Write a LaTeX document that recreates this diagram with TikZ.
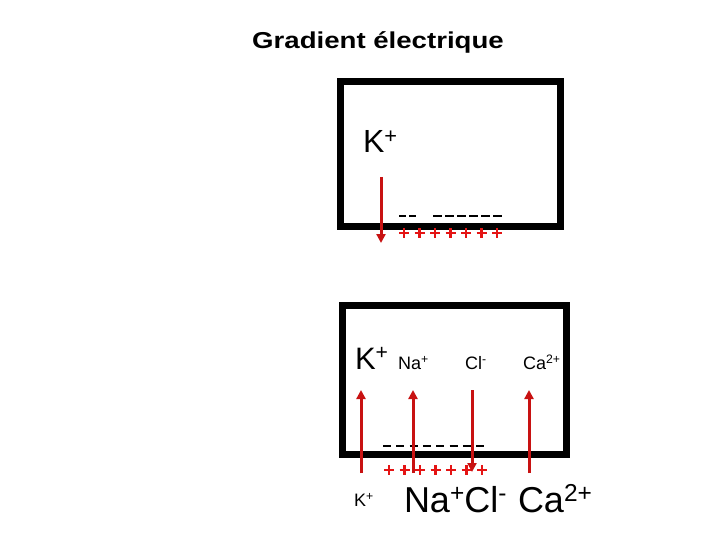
\documentclass[tikz,border=0pt]{standalone}
\usepackage{fontspec}
\setmainfont{Liberation Sans}
\usetikzlibrary{arrows.meta}
\definecolor{arrowred}{RGB}{200,18,18}
\definecolor{plusred}{RGB}{228,20,20}
\newcommand\supx[1]{\raisebox{0.3em}{\scalebox{0.68}{#1}}}
\newcommand\fsz[1]{\fontsize{#1}{#1}\selectfont}
\tikzset{
  cellbox/.style={draw=black, line width=7pt},
  ionarrow/.style={draw=arrowred, line width=3pt, -{Triangle[length=9pt,width=9pt]}},
  lbl/.style={anchor=base west, inner sep=0pt, outer sep=0pt},
  minusrow/.style={draw=black, line width=2pt},
  plusmark/.style={draw=plusred, line width=2.6pt},
}
\newcommand\plusat[2]{\draw[plusmark] (#1-5,#2) -- (#1+5,#2) (#1,#2-5) -- (#1,#2+5);}
\begin{document}
\begin{tikzpicture}[x=1pt,y=-1pt]
\useasboundingbox[fill=white] (0,0) rectangle (720,540);
% title
\node[anchor=base, inner sep=0pt] (title) at (378,49) {\scalebox{1.2}[1]{\fsz{23}\bfseries Gradient électrique}};
% top cell
\draw[cellbox] (340,82) rectangle (560,227);
\node[lbl] (kt) at (363,153) {\fsz{32}K\supx{+}};
\draw[minusrow, dash pattern=on 7pt off 3pt] (399,216) -- (416,216);
\draw[minusrow, dash pattern=on 9pt off 3pt] (433,216) -- (504,216);
\foreach \x in {404,419.5,435,450.5,466,481.5,497} {\plusat{\x}{233}}
\coordinate (ta) at (381,177);
\coordinate (tb) at (381,243);
\draw[ionarrow] (ta) -- (tb);
% bottom cell
\draw[cellbox] (342.5,305) rectangle (566,454.5);
\node[lbl] (kb) at (355,369) {\fsz{31}K\supx{+}};
\node[lbl] (nab) at (398,369) {\fsz{18}Na\supx{+}};
\node[lbl] (clb) at (465,369) {\fsz{18}Cl\supx{-}};
\node[lbl] (cab) at (523,369) {\fsz{18}Ca\supx{2+}};
\draw[minusrow, dash pattern=on 8pt off 5.3pt] (383,446) -- (484,446);
\foreach \x in {389,404.5,420,435.5,451,466.5,482} {\plusat{\x}{470}}
\node[lbl] (ko) at (354,506) {\fsz{18}K\supx{+}};
\node[lbl] (naclo) at (404,512) {\fsz{36}Na\supx{+}Cl\supx{-}};
\node[lbl] (cao) at (518,512) {\fsz{36}Ca\supx{2+}};
\coordinate (k1) at (361,473);  \coordinate (k2) at (361,390);
\coordinate (n1) at (413,473);  \coordinate (n2) at (413,390);
\coordinate (c1) at (472,390);  \coordinate (c2) at (472,472);
\coordinate (a1) at (529,473);  \coordinate (a2) at (529,390);
\draw[ionarrow] (k1) -- (k2);
\draw[ionarrow] (n1) -- (n2);
\draw[ionarrow] (c1) -- (c2);
\draw[ionarrow] (a1) -- (a2);
\end{tikzpicture}
\end{document}
